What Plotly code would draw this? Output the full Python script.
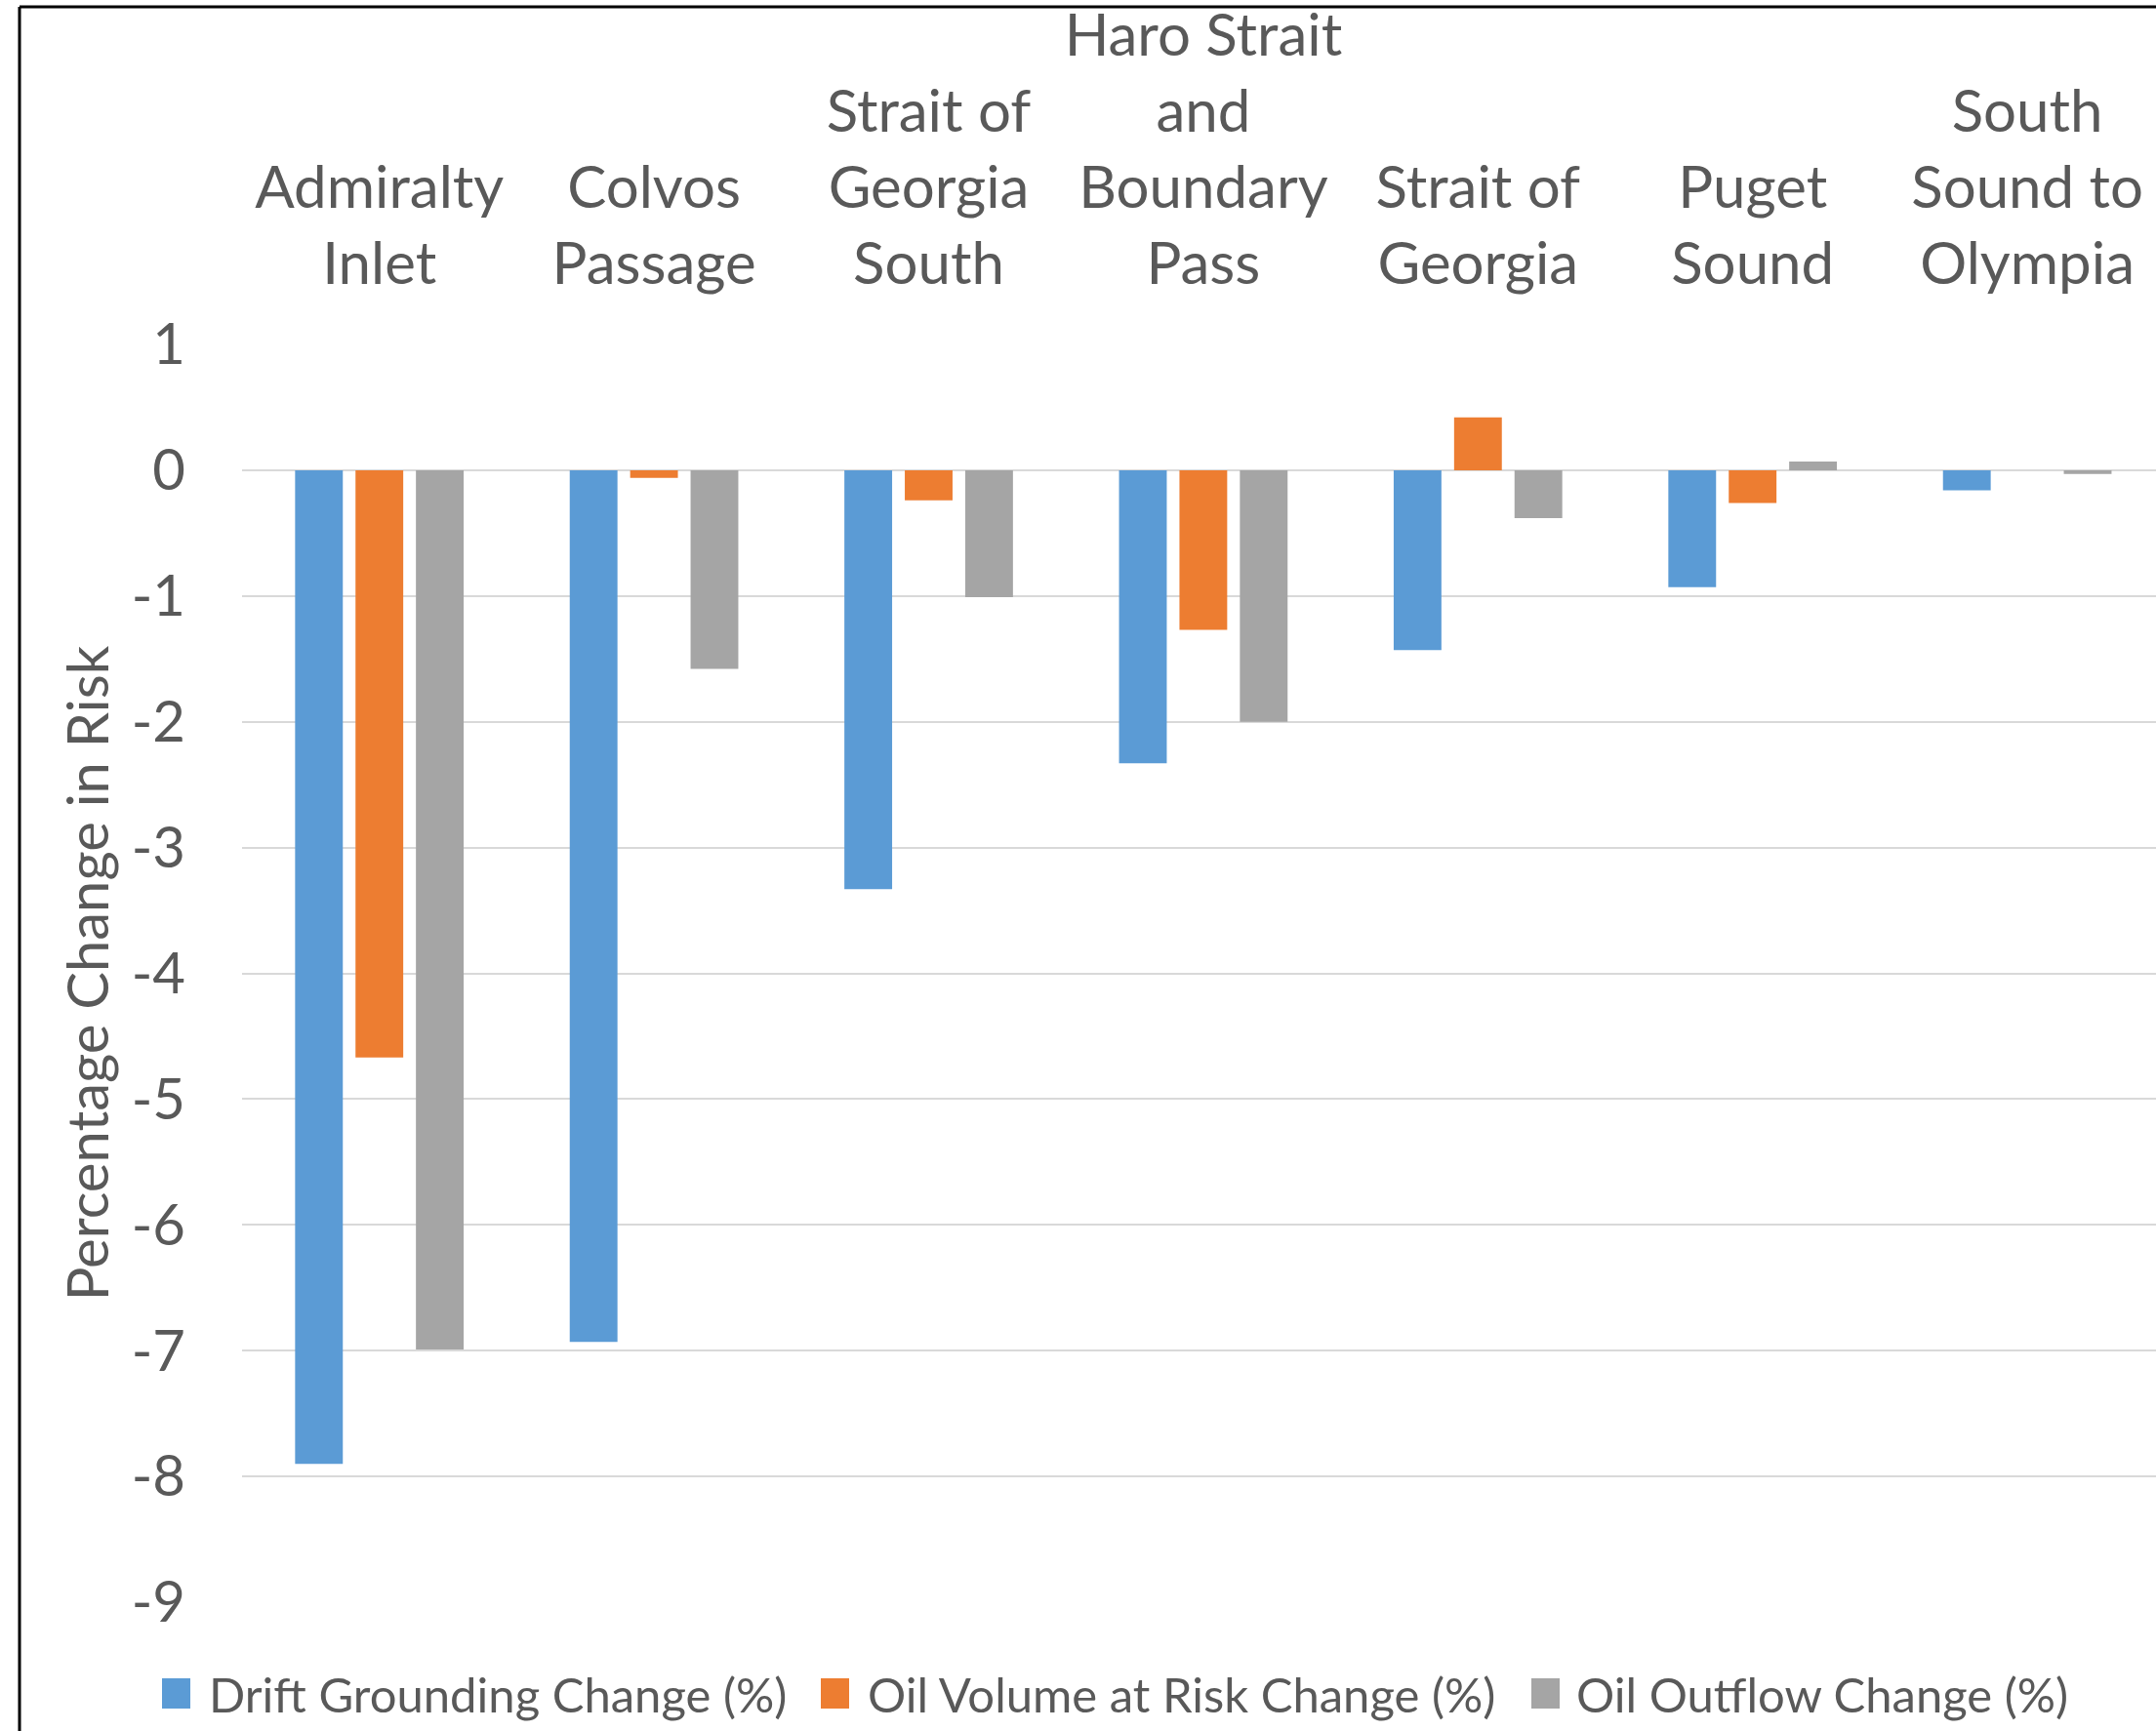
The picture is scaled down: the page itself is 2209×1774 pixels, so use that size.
import plotly.graph_objects as go

categories = [
    "Admiralty<br>Inlet",
    "Colvos<br>Passage",
    "Strait of<br>Georgia<br>South",
    "Haro Strait<br>and<br>Boundary<br>Pass",
    "Strait of<br>Georgia",
    "Puget<br>Sound",
    "South<br>Sound to<br>Olympia",
]
drift_grounding = [-7.90, -6.93, -3.33, -2.33, -1.43, -0.93, -0.16]
oil_volume = [-4.67, -0.06, -0.24, -1.27, 0.42, -0.26, 0.0]
oil_outflow = [-6.99, -1.58, -1.01, -2.00, -0.38, 0.07, -0.03]

y_tickvals = [1, 0, -1, -2, -3, -4, -5, -6, -7, -8, -9]
y_ticktext = ["1", "0", "-1", "-2", "-3", "-4", "-5", "-6", "-7", "-8", "-9"]

series_names = ["Drift Grounding Change (%)", "Oil Volume at Risk Change (%)", "Oil Outflow Change (%)"]
series_colors = ["#5B9BD5", "#ED7D31", "#A5A5A5"]

FONT = "Lato"
TXT = "#595959"

W, H = 2209, 1774
ML, MR, MT, MB = 248, 0, 353, 132
PW, PH = W - ML - MR, H - MT - MB
cat_w = 281.4
x_end = -0.5 + PW / cat_w


def px_x(X):
    return (X - ML) / PW


def px_y(Y):
    return (H - MB - Y) / PH


fig = go.Figure()
for name, vals, col in zip(series_names, [drift_grounding, oil_volume, oil_outflow], series_colors):
    fig.add_trace(go.Bar(
        x=list(range(len(categories))), y=vals, name=name,
        marker=dict(color=col, line=dict(width=0)),
        showlegend=False,
    ))

# outer chart border (left and top visible; right/bottom cropped)
bx = px_x(20)
by = px_y(7)
fig.add_shape(type="line", xref="paper", yref="paper", x0=bx, x1=bx, y0=px_y(H + 20), y1=by,
              line=dict(color="#000000", width=3))
fig.add_shape(type="line", xref="paper", yref="paper", x0=bx, x1=px_x(W + 20), y0=by, y1=by,
              line=dict(color="#000000", width=3))

# legend (swatch + label), laid out like the original legend row
legend_swatch_x = [166, 841, 1569]
legend_text_x = [212, 887, 1613]
sw_w, sw_top, sw_bot, txt_y = 29, 1720, 1751, 1736
for name, col, sx, tx in zip(series_names, series_colors, legend_swatch_x, legend_text_x):
    fig.add_shape(type="rect", xref="paper", yref="paper",
                  x0=px_x(sx), x1=px_x(sx + sw_w), y0=px_y(sw_bot), y1=px_y(sw_top),
                  fillcolor=col, line=dict(width=0))
    fig.add_annotation(xref="paper", yref="paper", x=px_x(tx), y=px_y(txt_y),
                       xanchor="left", yanchor="middle", showarrow=False, text=name,
                       font=dict(family=FONT, size=49, color=TXT))

fig.update_layout(
    width=W, height=H,
    margin=dict(l=ML, r=MR, t=MT, b=MB, autoexpand=False),
    paper_bgcolor="white", plot_bgcolor="white",
    barmode="group", bargap=0.34, bargroupgap=0.21,
    font=dict(family=FONT, color=TXT, size=58),
    showlegend=False,
    xaxis=dict(
        side="top", range=[-0.5, x_end], tickmode="array",
        tickvals=list(range(len(categories))), ticktext=categories,
        showgrid=False, zeroline=False, showline=False, ticks="",
        ticklabelstandoff=49,
        tickfont=dict(family=FONT, size=60, color=TXT), automargin=False,
    ),
    yaxis=dict(
        range=[-9, 1], tickmode="array", tickvals=y_tickvals, ticktext=y_ticktext,
        showgrid=True, gridcolor="#D9D9D9", gridwidth=2,
        zeroline=True, zerolinecolor="#D9D9D9", zerolinewidth=2,
        showline=False, ticks="", ticklabelstandoff=57,
        tickfont=dict(family=FONT, size=58, color=TXT), automargin=False,
        title=dict(text="Percentage Change in Risk", font=dict(family=FONT, size=58, color=TXT), standoff=4),
    ),
)

fig.write_html("out.html", config={"displayModeBar": False},
               post_script="document.body.style.margin='0px';")
